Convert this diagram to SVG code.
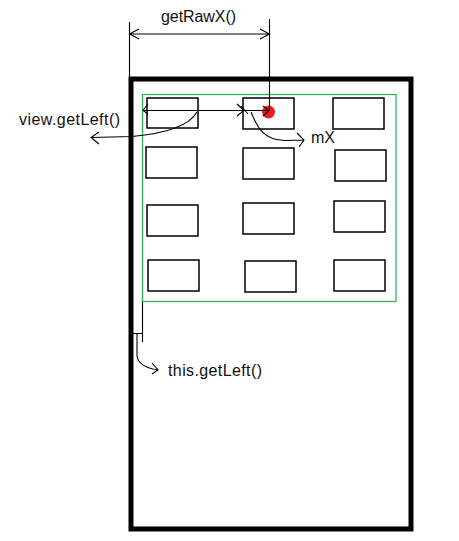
<svg xmlns="http://www.w3.org/2000/svg" width="459" height="541" viewBox="0 0 459 541">
<style>
.lbl{font-family:"Liberation Sans",Arial,sans-serif;font-size:16px;fill:#111}
.cell{fill:none;stroke:#000;stroke-width:1.5}
.ln{fill:none;stroke:#000;stroke-width:1.1}
</style>
<rect x="0" y="0" width="459" height="541" fill="#fff"/>
<g id="screen"><rect x="131" y="79" width="280" height="450" fill="none" stroke="#000" stroke-width="5"/></g>
<g id="viewgroup"><rect x="142.5" y="94.5" width="253.5" height="207" fill="none" stroke="#22b14c" stroke-width="1.2"/></g>
<g id="cells">
<g id="c11"><rect class="cell" x="147" y="98" width="51" height="30"/></g>
<g id="c12"><rect class="cell" x="243" y="98" width="51" height="31"/></g>
<g id="c13"><rect class="cell" x="333" y="98" width="51" height="31"/></g>
<g id="c21"><rect class="cell" x="146" y="147" width="51" height="31"/></g>
<g id="c22"><rect class="cell" x="243" y="148" width="51" height="31"/></g>
<g id="c23"><rect class="cell" x="335" y="150" width="51" height="31"/></g>
<g id="c31"><rect class="cell" x="147" y="205" width="51" height="31"/></g>
<g id="c32"><rect class="cell" x="243" y="203" width="51" height="31"/></g>
<g id="c33"><rect class="cell" x="334" y="201" width="51" height="31"/></g>
<g id="c41"><rect class="cell" x="148" y="260" width="51" height="31"/></g>
<g id="c42"><rect class="cell" x="245" y="261" width="51" height="31"/></g>
<g id="c43"><rect class="cell" x="334" y="260" width="51" height="31"/></g>
</g>
<g id="touch"><circle cx="268.5" cy="112" r="6.5" fill="#ed1c24"/></g>
<g id="connectors">
<!-- getRawX dimension -->
<path class="ln" d="M129.5,22 V77 M269.5,19 V111 M129.5,34 H269.5 M139,29 L129.5,34 L139,39 M260,29 L269.5,34 L260,39"/>
<!-- view.getLeft dimension -->
<path class="ln" d="M143,110.5 H244 M148,104 L143,110.5 L148,114 M237,104 L244,110.5 L237,116 M241,106 L248,114"/>
<!-- mX dimension -->
<path class="ln" d="M244,110.5 H269 M263,106 L269,110.5 L263,116"/>
<!-- view.getLeft callout -->
<path class="ln" d="M197,112 C188,128 160,134 132,136.5 L91,137.5 M99,132 L91,137.5 L99,144"/>
<!-- mX callout -->
<path class="ln" d="M251,112 C257,126 262,140 285,140.5 L304,140 M297,133 L304,140 L299,147"/>
<!-- this.getLeft callout -->
<path class="ln" d="M142.5,302 V342 M133,333.5 H142.5 M137,333.5 V356 C138,364 145,368 158,370 M152,363 L158,370 L152,374"/>
</g>
<g id="labels">
<text class="lbl" x="161" y="22" textLength="75">getRawX()</text>
<text class="lbl" x="19" y="125" textLength="101">view.getLeft()</text>
<text class="lbl" x="311" y="143" textLength="24">mX</text>
<text class="lbl" x="168" y="376" textLength="94">this.getLeft()</text>
</g>
</svg>
